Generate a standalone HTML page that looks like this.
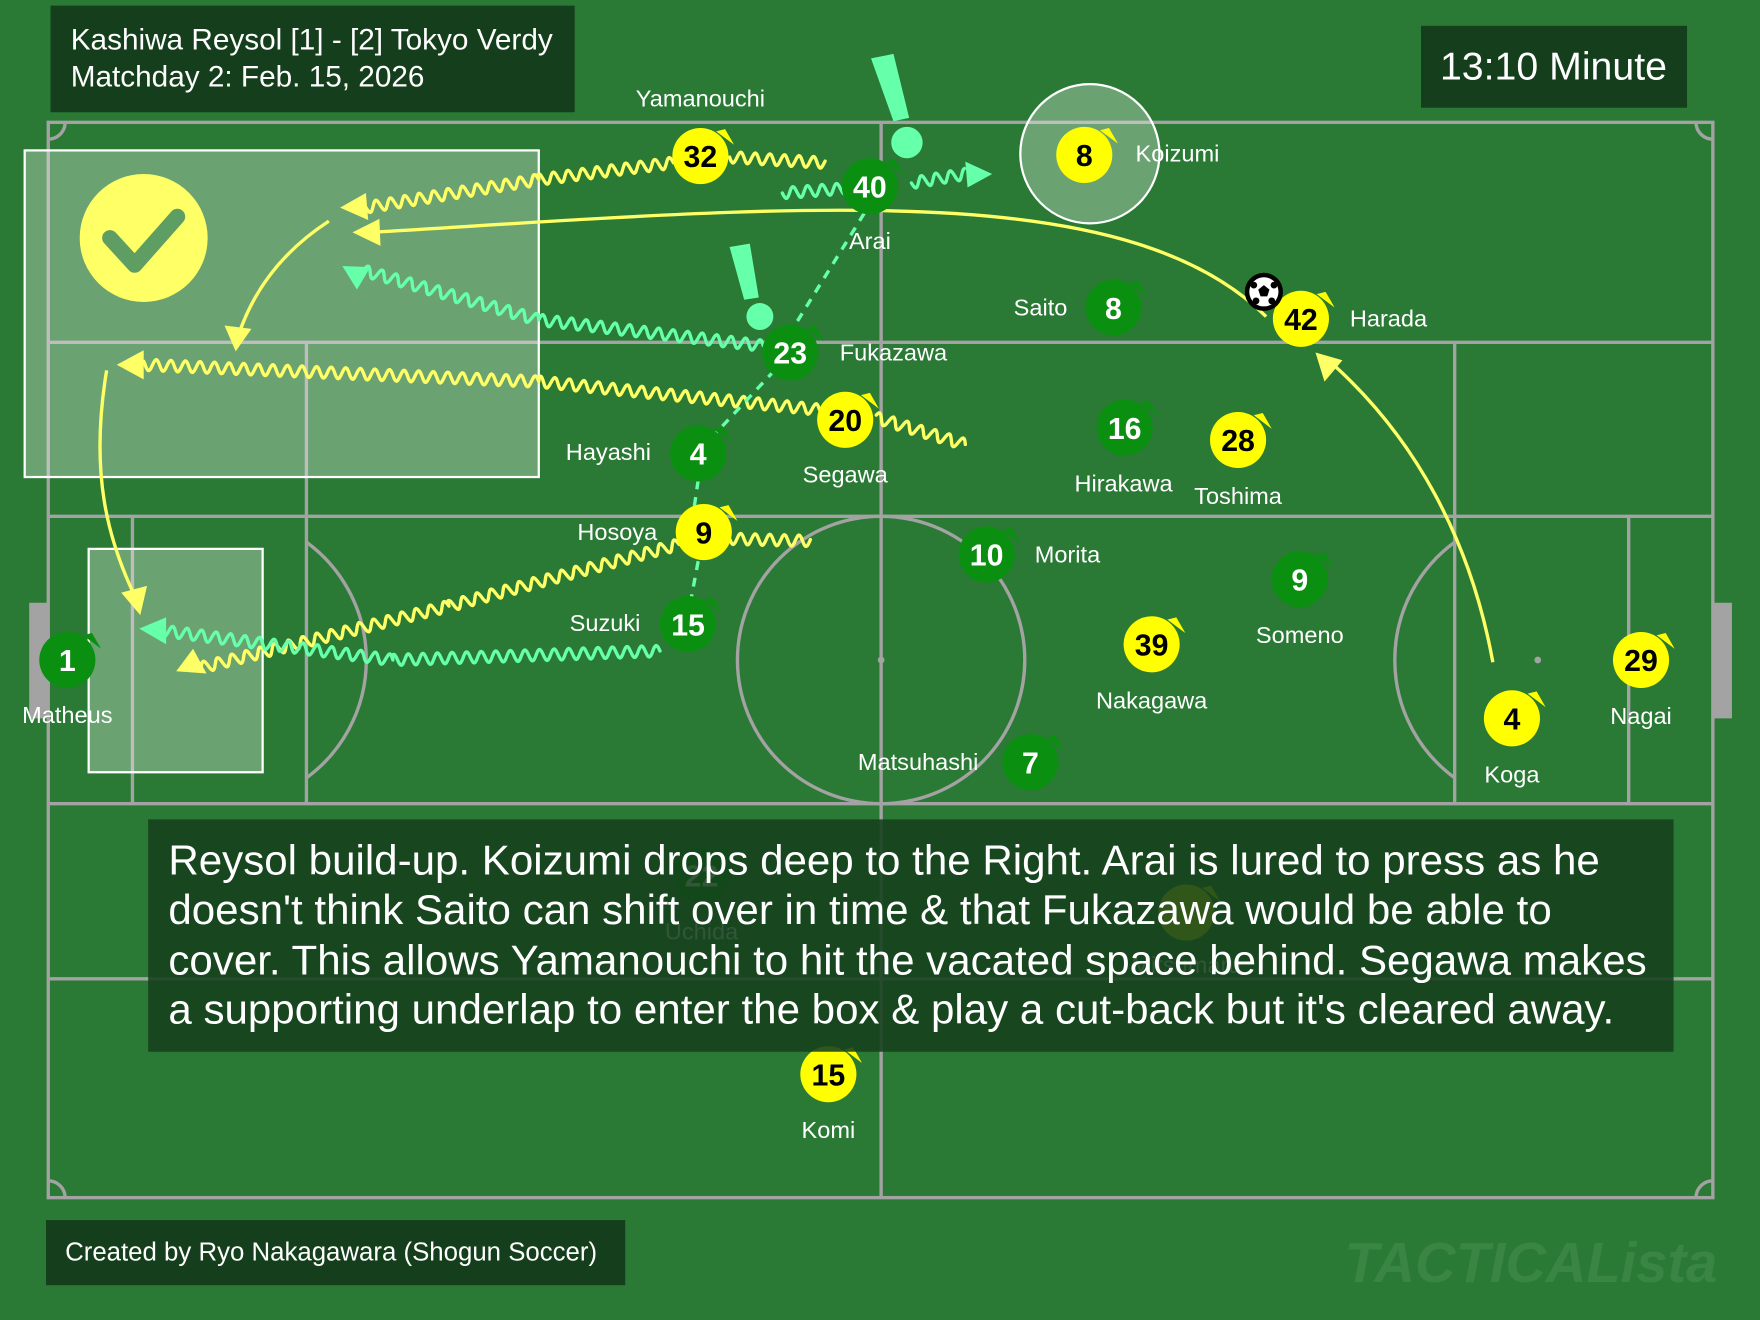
<!DOCTYPE html>
<html><head><meta charset="utf-8">
<style>
html,body{margin:0;padding:0;background:#2a7a35;}
svg{display:block}
text{font-family:"Liberation Sans",sans-serif;}
.lbl{fill:#fff;font-size:21px;text-anchor:middle;}
.num{font-family:"Liberation Sans Narrow","Liberation Sans",sans-serif;font-weight:bold;font-size:27px;text-anchor:middle;}
</style></head><body>
<svg id="s" width="1760" height="1320" viewBox="0 0 1568 1176" xmlns="http://www.w3.org/2000/svg">
<rect width="1568" height="1176" fill="#2a7a35"/>
<g fill="none" stroke="#a3a3a3" stroke-width="3">
<rect x="43" y="109" width="1483" height="958"/>
<line x1="43" y1="305" x2="1526" y2="305"/>
<line x1="43" y1="460" x2="1526" y2="460"/>
<line x1="43" y1="716" x2="1526" y2="716"/>
<line x1="43" y1="872" x2="1526" y2="872"/>
<line x1="785" y1="109" x2="785" y2="1067"/>
<line x1="273" y1="305" x2="273" y2="716"/>
<line x1="118" y1="460" x2="118" y2="716"/>
<line x1="1296" y1="305" x2="1296" y2="716"/>
<line x1="1451" y1="460" x2="1451" y2="716"/>
<circle cx="785" cy="588" r="128"/>
<path d="M273 483 A130 130 0 0 1 273 693"/>
<path d="M1296 483 A130 130 0 0 0 1296 693"/>
<path d="M43 124 A15 15 0 0 0 58 109"/><path d="M1511 109 A15 15 0 0 0 1526 124"/>
<path d="M43 1052 A15 15 0 0 1 58 1067"/><path d="M1511 1067 A15 15 0 0 1 1526 1052"/>
</g>
<rect x="26" y="537" width="17" height="103" fill="#a3a3a3"/>
<rect x="1526" y="537" width="17" height="103" fill="#a3a3a3"/>
<circle cx="785" cy="588" r="3" fill="#a3a3a3"/><circle cx="1370" cy="588" r="3" fill="#a3a3a3"/>
<rect x="22" y="134" width="458" height="291" fill="rgba(255,255,255,0.3)" stroke="#fff" stroke-width="2"/>
<rect x="79" y="489" width="155" height="199" fill="rgba(255,255,255,0.3)" stroke="#fff" stroke-width="2"/>
<circle cx="971" cy="137" r="62" fill="rgba(255,255,255,0.3)" stroke="#fff" stroke-width="2"/>
<circle cx="128" cy="212" r="57" fill="#ffff66"/>
<path d="M98 212 L120 236 L158 193" fill="none" stroke="#5e9e63" stroke-width="14" stroke-linecap="round" stroke-linejoin="round"/>
<g fill="none" stroke="#ffff66" stroke-width="3">
<path d="M1128 282 C1000 155 700 185 330 207"/>
<path d="M293 197 C250 225 225 260 212 300"/>
<path d="M95 330 C80 420 95 480 122 535"/>
<path d="M1330 590 C1310 480 1260 390 1188 325"/>
</g>
<g id="waves"></g>
<path d="M770 190 L708 290 M690 330 L632 392 M622 428 L618 455 M622 500 L616 532" stroke="#66ffaa" stroke-width="3" fill="none" stroke-dasharray="8 7"/>
<g fill="#ffff66">
<polygon points="303,185 326,172 328,196"/>
<polygon points="314,207 338,195 339,219"/>
<polygon points="210,313 200,290 224,293"/>
<polygon points="104,325 128,312 128,338"/>
<polygon points="125,548 108,528 131,522"/>
<polygon points="157,598 172,578 184,600"/>
<polygon points="1172,314 1196,321 1180,340"/>
</g>
<g fill="#66ffaa">
<polygon points="305,237 330,238 318,258"/>
<polygon points="124,560 148,550 148,574"/>
<polygon points="884,155 860,144 862,167"/>
<polygon points="776,52 796,48 810,105 796,108"/>
<circle cx="808" cy="127" r="14"/>
<polygon points="650,220 668,217 676,265 663,267"/>
<circle cx="677" cy="282" r="12"/>
</g>
<g id="pl"></g>
<circle cx="1126" cy="260" r="17" fill="#000"/>
<circle cx="1126" cy="260" r="13" fill="#fff"/>
<polygon points="1126,254 1131,258 1129,264 1123,264 1121,258" fill="#000"/>
<circle cx="1117" cy="254" r="3" fill="#000"/><circle cx="1135" cy="254" r="3" fill="#000"/><circle cx="1119" cy="268" r="3" fill="#000"/><circle cx="1133" cy="268" r="3" fill="#000"/>
<rect x="45" y="5" width="467" height="95" fill="#153f1c"/>
<text x="63" y="44" fill="#fff" font-size="26.5">Kashiwa Reysol [1] - [2] Tokyo Verdy</text>
<text x="63" y="77" fill="#fff" font-size="26.5">Matchday 2: Feb. 15, 2026</text>
<rect x="1266" y="23" width="237" height="73" fill="#153f1c"/>
<text x="1384" y="71" fill="#fff" font-size="35" text-anchor="middle">13:10 Minute</text>
<rect x="132" y="730" width="1359" height="207" fill="rgba(21,63,28,0.88)"/>
<g fill="#fff" font-size="37.5">
<text x="150" y="779">Reysol build-up. Koizumi drops deep to the Right. Arai is lured to press as he</text>
<text x="150" y="823">doesn't think Saito can shift over in time &amp; that Fukazawa would be able to</text>
<text x="150" y="868">cover. This allows Yamanouchi to hit the vacated space behind. Segawa makes</text>
<text x="150" y="912">a supporting underlap to enter the box &amp; play a cut-back but it's cleared away.</text>
</g>
<rect x="41" y="1087" width="516" height="58" fill="#153f1c"/>
<text x="58" y="1123" fill="#fff" font-size="23">Created by Ryo Nakagawara (Shogun Soccer)</text>
<text x="1530" y="1142" fill="rgba(255,255,255,0.08)" font-size="50" font-weight="bold" font-style="italic" text-anchor="end">TACTICALista</text>
</svg>
<script>
var NS='http://www.w3.org/2000/svg';
function el(tag,attrs,parent,txt){var e=document.createElementNS(NS,tag);for(var k in attrs)e.setAttribute(k,attrs[k]);if(txt!==undefined)e.textContent=txt;parent.appendChild(e);return e;}
function wave(pts,col){
  var d='',amp=5,wl=13;
  for(var k=0;k<pts.length-1;k++){
    var a=pts[k],b=pts[k+1],dx=b[0]-a[0],dy=b[1]-a[1],L=Math.hypot(dx,dy),ux=dx/L,uy=dy/L,nx=-uy,ny=ux;
    var n=Math.max(2,Math.round(L/wl*16));
    for(var i=0;i<=n;i++){var t=i/n*L,s=Math.sin(t/wl*2*Math.PI)*amp;
      var x=a[0]+ux*t+nx*s,y=a[1]+uy*t+ny*s;d+=(d?' L':'M')+x.toFixed(1)+' '+y.toFixed(1);}
  }
  el('path',{d:d,fill:'none',stroke:col,'stroke-width':3,'stroke-linecap':'round','stroke-linejoin':'round'},document.getElementById('waves'));
}
var Y='#ffff66',C='#66ffaa';
wave([[600,145],[480,160],[325,185]],Y);
wave([[650,140],[735,145]],Y);
wave([[680,308],[480,285],[320,240]],C);
wave([[860,396],[780,372]],Y);
wave([[730,365],[480,340],[128,325]],Y);
wave([[605,485],[400,540],[178,595]],Y);
wave([[650,480],[722,482]],Y);
wave([[588,580],[350,588],[145,562]],C);
wave([[697,172],[752,168]],C);
wave([[812,163],[860,155]],C);
var P=[
[775,166,'40','g','Arai',775,222],[704,314,'23','g','Fukazawa',796,321],[622,404,'4','g','Hayashi',542,410],
[613,556,'15','g','Suzuki',539,562],[60,588,'1','g','Matheus',60,644],[992,274,'8','g','Saito',927,281],
[1002,381,'16','g','Hirakawa',1001,438],[879,494,'10','g','Morita',951,501],[1158,516,'9','g','Someno',1158,573],
[918,679,'7','g','Matsuhashi',818,686],[625,780,'22','g','Uchida',625,837],
[624,139,'32','y','Yamanouchi',624,95],[966,138,'8','y','Koizumi',1049,144],[1159,284,'42','y','Harada',1237,291],
[753,374,'20','y','Segawa',753,430],[627,474,'9','y','Hosoya',550,481],[1103,392,'28','y','Toshima',1103,449],
[1026,574,'39','y','Nakagawa',1026,631],[1347,640,'4','y','Koga',1347,697],[1462,588,'29','y','Nagai',1462,645],
[738,957,'15','y','Komi',738,1014],[1057,813,'','y','Mitsumaru',1057,867]];
var g=document.getElementById('pl');
P.forEach(function(p){
  var f=p[3]=='g'?'#0a8f10':'#ffff00',tc=p[3]=='g'?'#fff':'#000';
  el('polygon',{points:(p[0]+22)+','+(p[1]-24)+' '+(p[0]+30)+','+(p[1]-10)+' '+(p[0]+14)+','+(p[1]-22),fill:f},g);
  el('circle',{cx:p[0],cy:p[1],r:25,fill:f},g);
  el('text',{'class':'num',x:p[0],y:p[1]+10,fill:tc},g,p[2]);
  el('text',{'class':'lbl',x:p[5],y:p[6]},g,p[4]);
});
</script>
</body></html>
